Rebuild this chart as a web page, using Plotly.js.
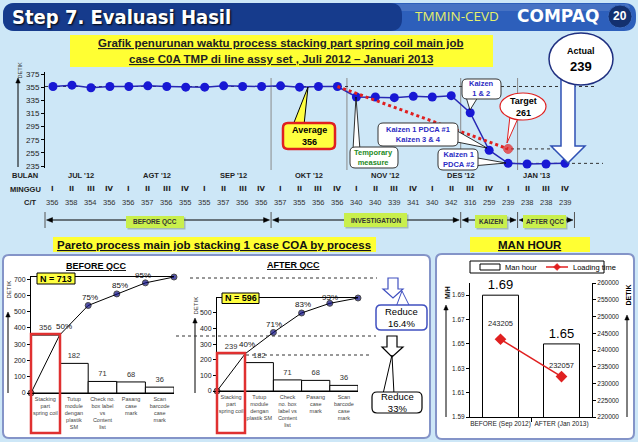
<!DOCTYPE html>
<html><head><meta charset="utf-8">
<script src="https://cdn.plot.ly/plotly-3.0.1.min.js"></script>
<style>html,body{margin:0;padding:0;background:#cde7f7;}#chart{width:638px;height:442px;}</style>
</head><body><div id="chart"></div>
<script>
// ---------------- DATA ----------------
const monthLabels = ["JUL '12","AGT '12","SEP '12","OKT '12","NOV '12","DES '12","JAN '13"];
const weekLabels = ["I","II","III","IV"];
const cycleTime = [356,358,354,356, 356,357,356,355, 355,357,356,356, 357,355,356,356,
                   340,340,339,341, 340,342,316,259, 239,238,238,239];
const targetWeek = [16,25];
const targetTime = [356,261];
const topTicks = [235,255,275,295,315,335,355,375];
const phaseNames = ["BEFORE QCC","INVESTIGATION","KAIZEN","AFTER QCC"];

const beforeCats = ["Stacking<br>part<br>spring coil","Tutup<br>module<br>dengan<br>plastik<br>SM","Check no.<br>box label<br>vs<br>Content<br>list","Pasang<br>case<br>mark","Scan<br>barcode<br>case<br>mark"];
const beforeTimes = [356,182,71,68,36];
const beforeCum = [0,356,538,609,677,713];
const beforePct = ["","50%","75%","85%","95%",""];

const afterCats = ["Stacking<br>part<br>spring coil","Tutup<br>module<br>dengan<br>plastik SM","Check<br>no. box<br>label vs<br>Content<br>list","Pasang<br>case<br>mark","Scan<br>barcode<br>case<br>mark"];
const afterTimes = [239,182,71,68,36];
const afterCum = [0,239,375,500,562,596];
const afterPct = ["","40%","71%","83%","93%",""];

const mhCats = ["BEFORE (Sep 2012)","AFTER (Jan 2013)"];
const manHour = [1.69,1.65];
const loadingTime = [243205,232057];

// ---------------- HELPERS ----------------
const W=638,H=442;
const PX=x=>x/W, PY=y=>1-y/H;
const F='Liberation Sans, Arial, sans-serif';
const X0=53, DX=(565-53)/27;
const idx2px=i=>X0+(i-1)*DX, px2idx=p=>1+(p-X0)/DX;
const v2py=v=>74+(375-v)*(92/140), py2v=p=>375-(p-74)*(140/92);

const shapes=[], ann=[];
function P(pts){return 'M'+pts.map(p=>PX(p[0]).toFixed(5)+','+PY(p[1]).toFixed(5)).join(' L')+' Z';}
function poly(pts,fill,lc,lw,layer){shapes.push({type:'path',xref:'paper',yref:'paper',path:P(pts),fillcolor:fill,line:{color:lc||'rgba(0,0,0,0)',width:lw||0},layer:layer||'above'});}
function line(x0,y0,x1,y1,color,width,dash,layer){shapes.push({type:'line',xref:'paper',yref:'paper',x0:PX(x0),y0:PY(y0),x1:PX(x1),y1:PY(y1),line:{color:color,width:width,dash:dash||'solid'},layer:layer||'above'});}
function rect(x0,y0,x1,y1,fill,lc,lw,layer){shapes.push({type:'rect',xref:'paper',yref:'paper',x0:PX(x0),y0:PY(y0),x1:PX(x1),y1:PY(y1),fillcolor:fill,line:{color:lc||'rgba(0,0,0,0)',width:lw||0},layer:layer||'above'});}
function ell(x0,y0,x1,y1,fill,lc,lw,layer){shapes.push({type:'circle',xref:'paper',yref:'paper',x0:PX(x0),y0:PY(y0),x1:PX(x1),y1:PY(y1),fillcolor:fill,line:{color:lc,width:lw},layer:layer||'above'});}
function rr(x0,y0,x1,y1,r,fill,lc,lw,layer){
  const f=(x,y)=>PX(x).toFixed(5)+','+PY(y).toFixed(5);
  const path='M'+f(x0+r,y0)+' L'+f(x1-r,y0)+' Q'+f(x1,y0)+' '+f(x1,y0+r)+' L'+f(x1,y1-r)+' Q'+f(x1,y1)+' '+f(x1-r,y1)+
    ' L'+f(x0+r,y1)+' Q'+f(x0,y1)+' '+f(x0,y1-r)+' L'+f(x0,y0+r)+' Q'+f(x0,y0)+' '+f(x0+r,y0)+' Z';
  shapes.push({type:'path',xref:'paper',yref:'paper',path:path,fillcolor:fill,line:{color:lc||'rgba(0,0,0,0)',width:lw||0},layer:layer||'above'});
}
function txt(x,y,text,size,color,opts){ann.push(Object.assign({xref:'paper',yref:'paper',x:PX(x),y:PY(y),text:text,showarrow:false,
  font:{family:F,size:size,color:color||'#000'},xanchor:'center',yanchor:'middle'},opts||{}));}
function upArrow(x,yb,yt,color){line(x,yb,x,yt+4,color,1,'solid','above');poly([[x,yt],[x-2.2,yt+5],[x+2.2,yt+5]],color,color,0.5);}

// ---------------- BACKGROUND / HEADER ----------------
rr(3,3,636,31,12,'#2d5fbb',null,0,'below');
rr(8,4,630,11,5,'rgba(255,255,255,0.12)',null,0,'below');
rr(3,3,402,31,12,'#163b8c',null,0,'below');
ell(608,5,632,28,'#13306f','#3a6ac0',1,'below');
txt(10,17,'<b>Step 7. Evaluasi Hasil</b>',20,'#fff',{xanchor:'left',font:{family:'DejaVu Sans Condensed, DejaVu Sans, sans-serif',size:20,color:'#fff',shadow:'1px 1px 2px #000'}});
txt(457,16,'TMMIN-CEVD',13.5,'#e6f06a',{font:{family:'Open Sans, sans-serif',size:13.5,color:'#e6f06a'}});
txt(558,16,'<b>COMPAQ</b>',17,'#fff',{font:{family:'DejaVu Sans, sans-serif',size:17,color:'#fff'}});
txt(620,16.5,'<b>20</b>',12,'#fff');

// title box
rect(70,35,493,67,'#ffff33',null,0,'below');
txt(281,43,'<b><u>Grafik penurunan waktu process stacking part spring coil main job</u></b>',11.5,'#222');
txt(281,59,'<b><u>case C0A TMP di line assy set , Juli 2012 \u2013 Januari 2013</u></b>',11.5,'#222');

// ---------------- TOP CHART DECORATION ----------------
[12.5,16.5,22.5,25.5].forEach(b=>line(idx2px(b),78,idx2px(b),170,'#8a8a8a',1,'solid','below'));
line(45,v2py(356),595,v2py(356),'#333',1,'dot','below');
line(505,v2py(261),583,v2py(261),'#333',1,'dot','below');
line(470,v2py(239),603,v2py(239),'#333',1,'dot','below');
upArrow(18,167,78,'#000');
txt(19.5,70,'DETIK',5.5,'#333',{textangle:-90});

// rows
txt(25,176,'<b>BULAN</b>',7.5,'#222');
txt(25,189,'<b>MINGGU</b>',7.5,'#222');
txt(30,203,'<b>C/T</b>',7.5,'#222');
monthLabels.forEach((m,k)=>ann.push({xref:'x',yref:'paper',x:2.5+4*k,y:PY(176),text:'<b>'+m+'</b>',showarrow:false,font:{family:F,size:7.5,color:'#222'}}));
cycleTime.forEach((v,i)=>{
  ann.push({xref:'x',yref:'paper',x:i+1,y:PY(189),text:weekLabels[i%4],showarrow:false,font:{family:'DejaVu Sans, sans-serif',size:7,color:'#222',weight:'bold'}});
  ann.push({xref:'x',yref:'paper',x:i+1,y:PY(203),text:String(v),showarrow:false,font:{family:F,size:7.5,color:'#333'}});
});

// phase arrows
const phaseEdges=[45,idx2px(12.5),idx2px(22.5),idx2px(25.5),idx2px(28.5)];
const phaseBox=[[126,216,184,228],[344,213,407,227],[475,215,507,228],[523,215,566,228]];
phaseEdges.forEach(x=>line(x,212,x,228,'#555',1));
for(let k=0;k<4;k++){
  const a=phaseEdges[k]+1.5,b=phaseEdges[k+1]-1.5;
  line(a+4,220,b-4,220,'#000',1);
  poly([[a,220],[a+6,217.6],[a+6,222.4]],'#000','#000',0.5);
  poly([[b,220],[b-6,217.6],[b-6,222.4]],'#000','#000',0.5);
  const bx=phaseBox[k];
  rect(bx[0]+1.5,bx[1]+1.5,bx[2]+1.5,bx[3]+1.5,'rgba(90,110,60,0.35)');
  rect(bx[0],bx[1],bx[2],bx[3],'#c9ef4c');
  txt((bx[0]+bx[2])/2,(bx[1]+bx[3])/2,'<b>'+phaseNames[k]+'</b>',6.5,'#333');
}

// callouts
poly([[293,125],[308,87],[304,125]],'#ffff40','#000',1);
rr(283,123,335,149,5,'#ffff40','#e02020',2.5);
txt(309,136,'<b>Average<br>356</b>',9,'#000');

poly([[353,150],[356,97],[360,150]],'#fff','#000',0.8);
rr(350,147,398,168,5,'#fff','#333',1);
txt(374,157.5,'<b>Temporary<br>measure</b>',7.5,'#238a23');

poly([[466,97],[470,110],[478,97]],'#fff','#000',0.8);
rr(462,79,501,99,5,'#fff','#333',1);
txt(481.5,89,'<b>Kaizen<br>1 & 2</b>',7.5,'#2b2bc4');

poly([[510,116],[507,143],[519,116]],'#fff','#e02020',1);
ell(500,93,546,120,'#fff','#e02020',1.2);
txt(523,106.5,'<b>Target<br>261</b>',9,'#000');

poly([[452,128],[487,148],[452,141]],'#fff','#000',0.8);
rr(378,123,458,146,5,'#fff','#333',1);
txt(418,134.5,'<b>Kaizen 1 PDCA #1<br>Kaizen 3 & 4</b>',7.5,'#2b2bc4');

poly([[472,157],[506,163],[472,166]],'#fff','#000',0.8);
rr(438,149,478,170,5,'#fff','#333',1);
txt(458,159.5,'<b>Kaizen 1<br>PDCA #2</b>',7.5,'#2b2bc4');

poly([[561,74],[575,74],[575,146],[585,146],[568,163],[551,146],[561,146]],'#fff','#2f50b4',1.5);
ell(549,33,613,85,'#fff','#1f2f80',1.5);
txt(581,51,'<b>Actual</b>',9,'#000');
txt(581,66,'<b>239</b>',13,'#000');

// ---------------- BOTTOM PANELS ----------------
rect(53,237,376,252,'#ffff33',null,0,'below');
txt(214,244.5,'<b><u>Pareto process main job stacking 1 case COA by process</u></b>',11.5,'#111');
rect(470,237,590,252,'#ffff33',null,0,'below');
txt(530,244.5,'<b><u>MAN HOUR</u></b>',11.5,'#111');
rr(3,255,430,438,6,'#fff','#8494c8',2,'below');
rr(436,254,634,439,6,'#fff','#8494c8',2,'below');

txt(97,266,'<b><u>BEFORE QCC</u></b>',9,'#000');
txt(293,265,'<b><u>AFTER QCC</u></b>',9,'#000');
rect(37,273,75,284,'#ffff40','#000',1);
txt(56,278.5,'<b>N = 713</b>',9,'#000');
rect(222,293,259,303.5,'#ffff40','#000',1);
txt(240.5,298.3,'<b>N = 596</b>',9,'#000');

upArrow(8,393,312,'#000');
txt(8.5,290,'DETIK',6,'#333',{textangle:-90});
upArrow(195,393,318,'#000');
txt(195.5,306,'DETIK',6,'#333',{textangle:-90});

line(190,278,377,278,'#333',1,'dot');
line(176,336,376,336,'#333',1,'dot');
line(246,355,371,355,'#333',1,'dot');
rect(31,334,60,433,'rgba(0,0,0,0)','#e03030',2.5);
rect(217,353,245,433,'rgba(0,0,0,0)','#e03030',2.5);

// reduce arrows
poly([[388,278],[398,278],[398,289],[403,289],[393,298],[383,289],[388,289]],'#fff','#4050c0',1.2);
poly([[396,307],[402,291],[410,307]],'#fff','#4050c0',1);
rr(376,305,427,330,5,'#fff','#4050c0',1.5);
txt(401.5,317.5,'Reduce<br>16.4%',9.5,'#000');
poly([[387,336],[397,336],[397,347],[403,347],[392,357],[382,347],[387,347]],'#fff','#000',1.2);
poly([[383,394],[392,355],[394,394]],'#fff','#000',1);
rr(372,392,422,413,5,'#fff','#000',1.2);
txt(397,402.5,'Reduce<br>33%',9.5,'#000');

// man hour labels/legend
upArrow(446,417,305,'#000');
txt(447,293,'<b>M/H</b>',7,'#000',{textangle:-90});
upArrow(627,417,315,'#000');
txt(627.5,295,'<b>DETIK</b>',7,'#000',{textangle:-90});
rect(470,261,604,273,'#fff','#000',1);
rect(480,264,500,270,'#fff','#000',1);
txt(503,267,'Man hour',7.5,'#000',{xanchor:'left'});
line(546,267,568,267,'#e02020',1.5);
poly([[557,263.5],[560.5,267],[557,270.5],[553.5,267]],'#e02020','#e02020',0.5);
txt(571,267,'Loading time',7.5,'#000',{xanchor:'left'});

// ---------------- TRACES ----------------
const traces=[];
const wk=cycleTime.map((_,i)=>i+1);
traces.push({type:'scatter',x:wk,y:cycleTime,xaxis:'x',yaxis:'y',mode:'lines+markers',
  line:{color:'#2828b4',width:1.5},marker:{color:'#1818d4',size:9},cliponaxis:false,hoverinfo:'skip'});
traces.push({type:'scatter',x:targetWeek,y:targetTime,xaxis:'x',yaxis:'y',mode:'lines+markers',
  line:{color:'#e02020',width:3,dash:'dot'},marker:{color:'#e82020',size:[0,9]},cliponaxis:false,hoverinfo:'skip'});

function pareto(times,cum,pct,xa,ya,shifts){
  traces.push({type:'bar',x:times.map((_,i)=>i+0.5),y:times,width:1,xaxis:xa,yaxis:ya,
    marker:{color:'#fff',line:{color:'#000',width:1}},text:times.map(String),textposition:'outside',
    textfont:{family:F,size:7.5,color:'#333'},cliponaxis:false,hoverinfo:'skip'});
  traces.push({type:'scatter',x:cum.map((_,i)=>i),y:cum,xaxis:xa,yaxis:ya,mode:'lines+markers',
    line:{color:'#000',width:1},marker:{size:[6,0,6,6,6,6],color:['#8b1010','#0a0a80','#0a0a80','#0a0a80','#0a0a80','#0a0a80']},
    cliponaxis:false,hoverinfo:'skip'});
  pct.forEach((t,i)=>{if(t)ann.push({xref:xa,yref:ya,x:i,y:cum[i],text:t,showarrow:false,xshift:shifts[i][0],yshift:shifts[i][1],
    font:{family:F,size:8,color:'#111'}});});
}
pareto(beforeTimes,beforeCum,beforePct,'x2','y2',[[0,0],[4,9],[2,8],[3,8],[-2,7],[0,0]]);
pareto(afterTimes,afterCum,afterPct,'x3','y4',[[0,0],[2,9],[1,8],[1,8],[0,6],[0,0]]);

traces.push({type:'bar',x:[0.5,1.5],y:manHour,width:0.59,xaxis:'x4',yaxis:'y6',
  marker:{color:'#fff',line:{color:'#000',width:1}},text:manHour.map(v=>v.toFixed(2)),textposition:'outside',
  textfont:{family:F,size:13,color:'#000'},cliponaxis:false,hoverinfo:'skip'});
traces.push({type:'scatter',x:[0.5,1.5],y:loadingTime,xaxis:'x4',yaxis:'y7',mode:'lines+markers',
  line:{color:'#e02020',width:1.5},marker:{symbol:'diamond',size:9,color:'#e02020'},cliponaxis:false,hoverinfo:'skip'});
loadingTime.forEach((v,i)=>ann.push({xref:'x4',yref:'y7',x:i+0.5,y:v,text:String(v),showarrow:false,yshift:[16,11][i],
  font:{family:F,size:7.5,color:'#222'}}));

// ---------------- LAYOUT ----------------
const tf=(s)=>({family:F,size:s,color:'#222'});
const base={showgrid:false,zeroline:false,showline:true,linecolor:'#000',linewidth:1,ticks:'outside',ticklen:3,tickcolor:'#000',fixedrange:true};
const layout={
  width:W,height:H,margin:{l:0,r:0,t:0,b:0},paper_bgcolor:'#cde7f7',plot_bgcolor:'rgba(0,0,0,0)',showlegend:false,
  bargap:0,
  xaxis:{domain:[PX(45),PX(600)],range:[px2idx(45),px2idx(600)],visible:false,anchor:'y',fixedrange:true},
  yaxis:Object.assign({},base,{domain:[PY(168),PY(72)],range:[py2v(168),py2v(72)],tickvals:topTicks,tickfont:tf(8),anchor:'x'}),
  xaxis2:Object.assign({},base,{domain:[PX(31),PX(174)],range:[0,5],anchor:'y2',mirror:true,ticks:'',
    tickvals:beforeCats.map((_,i)=>i+0.5),ticktext:beforeCats,tickfont:{family:F,size:5.5,color:'#444'}}),
  yaxis2:Object.assign({},base,{domain:[PY(393),PY(277)],range:[0,713],tickvals:[0,100,200,300,400,500,600,700],tickfont:tf(7),anchor:'x2'}),
  yaxis3:Object.assign({},base,{overlaying:'y2',side:'right',anchor:'x2',range:[0,1],tickvals:[0,0.5,1],ticktext:['0','50%','100%'],tickfont:tf(6.5)}),
  xaxis3:Object.assign({},base,{domain:[PX(217),PX(358)],range:[0,5],anchor:'y4',mirror:true,ticks:'',
    tickvals:afterCats.map((_,i)=>i+0.5),ticktext:afterCats,tickfont:{family:F,size:5.5,color:'#444'}}),
  yaxis4:Object.assign({},base,{domain:[PY(391),PY(298)],range:[0,596],tickvals:[0,100,200,300,400,500],tickfont:tf(7),anchor:'x3'}),
  yaxis5:Object.assign({},base,{overlaying:'y4',side:'right',anchor:'x3',range:[0,1],tickvals:[0,0.5,1],ticktext:['0','50%','100%'],tickfont:tf(6.5)}),
  xaxis4:Object.assign({},base,{domain:[PX(470),PX(592)],range:[0,2],anchor:'y6',ticks:'',tickvals:[0.5,1.5],ticktext:mhCats,
    tickfont:{family:F,size:6.5,color:'#222'},minor:{tickvals:[1],ticks:'outside',ticklen:4,tickcolor:'#000'}}),
  yaxis6:Object.assign({},base,{domain:[PY(417),PY(283)],range:[1.59,1.70],tickvals:[1.59,1.61,1.63,1.65,1.67,1.69],tickformat:'.2f',tickfont:tf(6.5),anchor:'x4'}),
  yaxis7:Object.assign({},base,{overlaying:'y6',side:'right',anchor:'x4',range:[220000,260000],dtick:5000,tick0:220000,tickformat:'d',tickfont:tf(6.5)}),
  shapes:shapes,annotations:ann
};
Plotly.newPlot('chart',traces,layout,{displayModeBar:false,staticPlot:true});
</script></body></html>
